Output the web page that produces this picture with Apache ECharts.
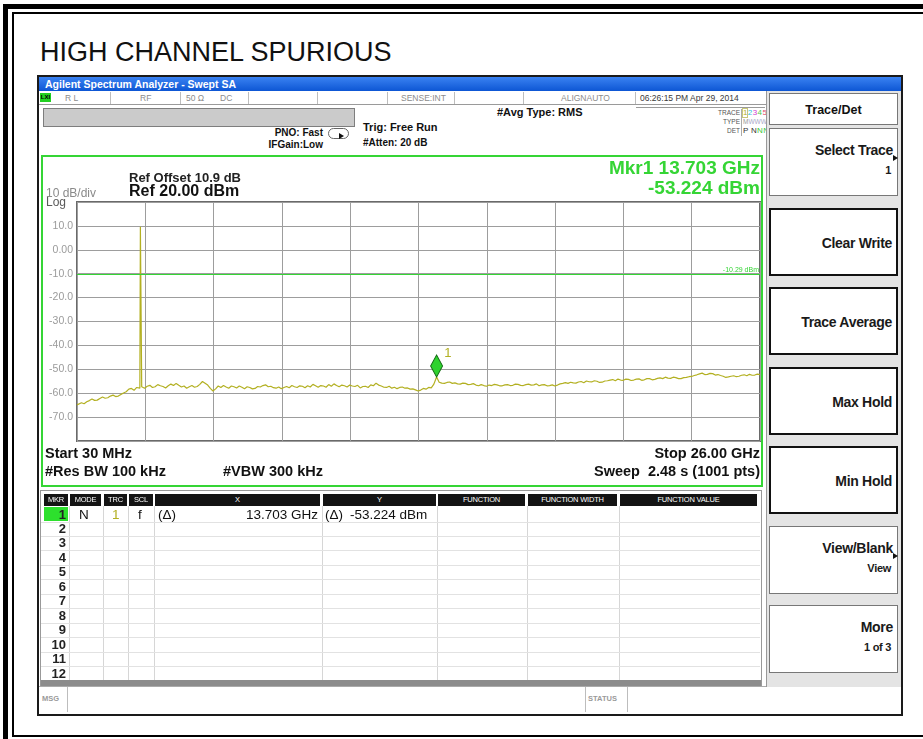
<!DOCTYPE html>
<html>
<head>
<meta charset="utf-8">
<title>HIGH CHANNEL SPURIOUS</title>
<script src="https://cdn.jsdelivr.net/npm/echarts@6/dist/echarts.min.js"></script>
<style>
body{margin:0;width:923px;height:739px;overflow:hidden;background:#fff;position:relative;font-family:Arial,"Liberation Sans",sans-serif;color:#111}
.a{position:absolute;box-sizing:border-box}
.t{position:absolute;white-space:nowrap;line-height:1}
.b{font-weight:bold}
.r{text-align:right}
.st{font-size:8.5px;color:#8c8c8c}
.vl{position:absolute;width:1px;background:#bdbdbd}
.hl{position:absolute;height:1px;background:#bdbdbd}
.key{position:absolute;left:769px;width:129px;background:#fff;border:1px solid #777;box-sizing:border-box}
.kt{position:absolute;right:4px;white-space:nowrap;line-height:1;font-weight:bold;font-size:14px;letter-spacing:-0.3px;color:#1a1a1a}
.hd{position:absolute;top:494px;height:12px;background:#141414;color:#fff;font-size:7.5px;line-height:12px;text-align:center;letter-spacing:-0.2px}
.tri{position:absolute;width:0;height:0;border-left:5px solid #111;border-top:3.5px solid transparent;border-bottom:3.5px solid transparent}
</style>
</head>
<body>
<!-- frame -->
<div class="a" style="left:3px;top:4px;width:960px;height:800px;border:5px solid #000"></div>
<div class="a" style="left:12px;top:12px;width:960px;height:725px;border:2.5px solid #000"></div>
<div class="t" style="left:40px;top:39px;font-size:27px">HIGH CHANNEL SPURIOUS</div>

<!-- analyzer window -->
<div class="a" style="left:37px;top:75px;width:866px;height:641px;border:2px solid #1a1a1a;background:#fff"></div>
<div class="a" style="left:39px;top:77px;width:862px;height:14px;background:linear-gradient(#3a82f2,#0d56d4)"></div>
<div class="t b" style="left:45px;top:79px;font-size:10.5px;color:#fff">Agilent Spectrum Analyzer - Swept SA</div>

<!-- status row -->
<div class="hl" style="left:39px;top:104px;width:727px;background:#9a9a9a"></div>
<div class="a" style="left:40px;top:93px;width:11px;height:9px;background:#22d022;font-size:6px;font-weight:bold;line-height:9px;text-align:center;color:#000">LXI</div>
<div class="t st" style="left:65px;top:94px">R L</div>
<div class="t st" style="left:140px;top:94px">RF</div>
<div class="t st" style="left:186px;top:94px">50 Ω</div>
<div class="t st" style="left:220px;top:94px">DC</div>
<div class="t st" style="left:401px;top:94px">SENSE:INT</div>
<div class="t st" style="left:561px;top:94px">ALIGNAUTO</div>
<div class="t" style="left:640px;top:94px;font-size:8.5px;color:#3a3a3a">06:26:15 PM Apr 29, 2014</div>
<div class="vl" style="left:110px;top:92px;height:12px"></div>
<div class="vl" style="left:180px;top:92px;height:12px"></div>
<div class="vl" style="left:248px;top:92px;height:12px"></div>
<div class="vl" style="left:317px;top:92px;height:12px"></div>
<div class="vl" style="left:387px;top:92px;height:12px"></div>
<div class="vl" style="left:454px;top:92px;height:12px"></div>
<div class="vl" style="left:523px;top:92px;height:12px"></div>
<div class="vl" style="left:635px;top:92px;height:12px"></div>
<div class="hl" style="left:636px;top:107px;width:129px;background:#9a9a9a"></div>

<!-- settings -->
<div class="a" style="left:43px;top:108px;width:312px;height:19px;background:#cbcbcb;border:1px solid #7e7e7e"></div>
<div class="t b r" style="right:600px;top:128px;font-size:10px">PNO: Fast</div>
<div class="t b r" style="right:600px;top:140px;font-size:10px">IFGain:Low</div>
<div class="a" style="left:328px;top:128px;width:21px;height:11px;border:1.5px solid #666;border-radius:6px"></div>
<div class="tri" style="left:339px;top:133px"></div>
<div class="t b" style="left:363px;top:122px;font-size:11px">Trig: Free Run</div>
<div class="t b" style="left:363px;top:138px;font-size:10px">#Atten: 20 dB</div>
<div class="t b" style="left:497px;top:107px;font-size:11px">#Avg Type: RMS</div>
<div class="vl" style="left:741px;top:109px;height:27px;background:#aaa"></div>
<div class="t r" style="right:183px;top:110px;font-size:6.5px;color:#555">TRACE</div>
<div class="t r" style="right:183px;top:119px;font-size:6.5px;color:#555">TYPE</div>
<div class="t r" style="right:183px;top:128px;font-size:6.5px;color:#555">DET</div>
<div class="a" style="left:742px;top:108px;width:6px;height:10px;border:1px solid #c8c878"></div>
<div class="t" style="left:743px;top:109px;font-size:8px;letter-spacing:0.4px"><span style="color:#b3b022">1</span><span style="color:#2ec4e0">2</span><span style="color:#d23ad2">3</span><span style="color:#4bc84b">4</span><span style="color:#e0506e">5</span><span style="color:#6a6ae8">6</span></div>
<div class="t" style="left:743px;top:119px;font-size:6.5px;color:#a9a9c9"><span style="color:#999">M</span>WWWWW</div>
<div class="t" style="left:743px;top:127px;font-size:8px;letter-spacing:0.3px"><span style="color:#333">P N</span><span style="color:#38c838">NNNN</span></div>

<!-- plot block -->
<div id="sa_chart" class="a" style="left:42px;top:157px;width:720px;height:330px"></div>
<div class="a" style="left:41px;top:155px;width:722px;height:332px;border:2px solid #35d535"></div>
<div class="t b" style="left:129px;top:171px;font-size:13px;color:#222">Ref Offset 10.9 dB</div>
<div class="t b" style="left:129px;top:183px;font-size:16px">Ref 20.00 dBm</div>
<div class="t" style="left:46px;top:187px;font-size:12px;color:#8a8a8a">10 dB/div</div>
<div class="t" style="left:46px;top:196px;font-size:12px;color:#5a5a5a">Log</div>
<div class="t b r" style="right:163px;top:158px;font-size:19px;color:#35d535">Mkr1 13.703 GHz</div>
<div class="t b r" style="right:163px;top:178px;font-size:19px;color:#35d535">-53.224 dBm</div>
<div class="t b" style="left:45px;top:446px;font-size:14.5px">Start 30 MHz</div>
<div class="t b" style="left:45px;top:464px;font-size:14.5px">#Res BW 100 kHz</div>
<div class="t b" style="left:223px;top:464px;font-size:14.5px">#VBW 300 kHz</div>
<div class="t b r" style="right:163px;top:446px;font-size:14.5px">Stop 26.00 GHz</div>
<div class="t b r" style="right:163px;top:464px;font-size:14.5px">Sweep&nbsp; 2.48 s (1001 pts)</div>

<!-- marker table -->
<div id="mkr_table"></div>

<!-- message row -->
<div class="hl" style="left:39px;top:686px;width:862px;background:#aaa"></div>
<div class="t b" style="left:42px;top:695px;font-size:7.5px;color:#9a9a9a">MSG</div>
<div class="vl" style="left:67px;top:687px;height:25px"></div>
<div class="vl" style="left:585px;top:687px;height:25px"></div>
<div class="t b" style="left:588px;top:695px;font-size:7.5px;color:#9a9a9a">STATUS</div>
<div class="vl" style="left:627px;top:687px;height:25px"></div>

<!-- softkeys -->
<div class="a" style="left:766px;top:91px;width:135px;height:596px;background:#e4e4e4;border-left:1px solid #999"></div>
<div id="soft_keys"></div>

<script>
// sweep trace (GHz / dBm)
const freqGHz = [
  0.03, 0.1, 0.2, 0.3, 0.4, 0.5, 0.6, 0.7, 0.8, 0.9,
  1.0, 1.1, 1.2, 1.3, 1.4, 1.5, 1.6, 1.7, 1.8, 1.9,
  2.0, 2.1, 2.2, 2.3, 2.36, 2.42, 2.44, 2.47, 2.49, 2.55,
  2.6, 2.7, 2.8, 2.9, 3.0, 3.1, 3.2, 3.3, 3.4, 3.5,
  3.6, 3.7, 3.8, 3.9, 4.0, 4.1, 4.2, 4.3, 4.4, 4.5,
  4.6, 4.7, 4.8, 4.9, 5.0, 5.1, 5.2, 5.3, 5.4, 5.5,
  5.6, 5.7, 5.8, 5.9, 6.0, 6.1, 6.2, 6.3, 6.4, 6.5,
  6.6, 6.7, 6.8, 6.9, 7.0, 7.1, 7.2, 7.3, 7.4, 7.5,
  7.6, 7.7, 7.8, 7.9, 8.0, 8.1, 8.2, 8.3, 8.4, 8.5,
  8.6, 8.7, 8.8, 8.9, 9.0, 9.1, 9.2, 9.3, 9.4, 9.5,
  9.6, 9.7, 9.8, 9.9, 10.0, 10.1, 10.2, 10.3, 10.4, 10.5,
  10.6, 10.7, 10.8, 10.9, 11.0, 11.1, 11.2, 11.3, 11.4, 11.5,
  11.6, 11.7, 11.8, 11.9, 12.0, 12.1, 12.2, 12.3, 12.4, 12.5,
  12.6, 12.7, 12.8, 12.9, 13.0, 13.1, 13.2, 13.3, 13.4, 13.5,
  13.6, 13.703, 13.8, 13.9, 14.0, 14.1, 14.2, 14.3, 14.4, 14.5,
  14.6, 14.7, 14.8, 14.9, 15.0, 15.1, 15.2, 15.3, 15.4, 15.5,
  15.6, 15.7, 15.8, 15.9, 16.0, 16.1, 16.2, 16.3, 16.4, 16.5,
  16.6, 16.7, 16.8, 16.9, 17.0, 17.1, 17.2, 17.3, 17.4, 17.5,
  17.6, 17.7, 17.8, 17.9, 18.0, 18.1, 18.2, 18.3, 18.4, 18.5,
  18.6, 18.7, 18.8, 18.9, 19.0, 19.1, 19.2, 19.3, 19.4, 19.5,
  19.6, 19.7, 19.8, 19.9, 20.0, 20.1, 20.2, 20.3, 20.4, 20.5,
  20.6, 20.7, 20.8, 20.9, 21.0, 21.1, 21.2, 21.3, 21.4, 21.5,
  21.6, 21.7, 21.8, 21.9, 22.0, 22.1, 22.2, 22.3, 22.4, 22.5,
  22.6, 22.7, 22.8, 22.9, 23.0, 23.1, 23.2, 23.3, 23.4, 23.5,
  23.6, 23.7, 23.8, 23.9, 24.0, 24.1, 24.2, 24.3, 24.4, 24.5,
  24.6, 24.7, 24.8, 24.9, 25.0, 25.1, 25.2, 25.3, 25.4, 25.5,
  25.6, 25.7, 25.8, 25.9, 26.0
]
const levelDbm = [
  -64.9, -64.3, -64.0, -64.4, -63.6, -63.1, -62.4, -63.0, -62.9, -62.2,
  -61.6, -62.1, -61.9, -61.2, -60.8, -61.4, -61.2, -60.5, -59.9, -59.4,
  -58.3, -58.0, -58.8, -57.6, -57.4, -57.9, 9.6, 9.8, -57.3, -57.6,
  -57.9, -57.1, -56.7, -57.6, -57.3, -56.4, -56.9, -57.2, -57.8, -56.9,
  -56.2, -56.8, -55.9, -56.7, -57.4, -57.0, -57.9, -57.3, -56.8, -57.5,
  -57.2, -56.3, -55.1, -55.8, -56.6, -58.0, -59.1, -58.2, -57.0, -57.6,
  -56.8, -57.4, -57.9, -57.0, -57.3, -57.8, -57.0, -57.5, -58.1, -57.3,
  -57.6, -58.2, -58.0, -57.2, -57.4, -56.8, -56.5, -57.3, -57.1, -57.7,
  -57.9, -57.4, -58.1, -57.6, -57.2, -57.7, -56.8, -57.3, -57.6, -56.9,
  -57.1, -57.7, -56.9, -57.4, -56.3, -56.9, -57.5, -56.8, -57.0, -57.5,
  -56.4, -57.1, -56.1, -56.8, -57.3, -56.6, -56.9, -57.4, -56.6, -57.0,
  -57.2, -56.7, -57.8, -57.2, -57.1, -57.6, -56.5, -56.9, -55.8, -56.6,
  -57.0, -57.5, -57.6, -57.1, -57.9, -57.5, -58.1, -57.6, -57.4, -57.9,
  -57.8, -58.3, -58.2, -58.6, -59.1, -58.7, -58.0, -58.3, -57.6, -57.8,
  -56.2, -53.224, -55.4, -55.8, -55.9, -55.5, -55.3, -55.9, -55.7, -56.1,
  -56.2, -55.8, -55.9, -56.4, -56.3, -56.0, -56.6, -56.9, -56.4, -56.8,
  -57.1, -56.6, -56.8, -56.3, -56.5, -56.9, -56.9, -56.5, -56.4, -56.8,
  -56.7, -56.2, -56.3, -56.7, -56.8, -56.4, -56.2, -56.6, -56.5, -56.1,
  -56.9, -56.5, -56.4, -56.9, -56.8, -56.5, -57.0, -56.6, -56.1, -55.9,
  -55.6, -55.9, -55.4, -55.7, -55.8, -55.3, -55.1, -55.6, -54.9, -55.2,
  -55.3, -54.8, -55.0, -55.5, -55.4, -54.9, -54.8, -54.5, -54.3, -54.8,
  -54.1, -54.5, -54.6, -54.1, -54.2, -54.7, -54.5, -54.1, -54.0, -54.6,
  -54.4, -53.9, -53.9, -54.4, -54.2, -53.8, -53.6, -53.9, -53.3, -53.7,
  -53.8, -53.3, -53.5, -53.9, -53.9, -53.5, -53.4, -53.1, -53.0, -52.6,
  -52.3, -51.9, -51.6, -52.2, -52.1, -51.7, -51.8, -52.4, -52.2, -52.6,
  -52.9, -53.4, -53.2, -52.9, -52.7, -53.1, -52.9, -52.5, -52.3, -52.7,
  -52.1, -52.5, -52.4, -52.0, -52.2
]
const startGHz = 0.03
const stopGHz = 26.0
const refLevel = 20
const bottomLevel = -80
const dbPerDiv = 10
const displayLine = -10.29
const marker1 = [13.703, -53.224]

const tableHeads = ['MKR', 'MODE', 'TRC', 'SCL', 'X', 'Y', 'FUNCTION', 'FUNCTION WIDTH', 'FUNCTION VALUE']
const markerNums = ['1', '2', '3', '4', '5', '6', '7', '8', '9', '10', '11', '12']
const row1Cells = ['N', '1', 'f', '(Δ)', '13.703 GHz', '(Δ)', '-53.224 dBm']
const softKeys = [
  {name: 'Select Trace', sub: '1', arrow: true},
  {name: 'Clear Write'},
  {name: 'Trace Average'},
  {name: 'Max Hold'},
  {name: 'Min Hold'},
  {name: 'View/Blank', sub: 'View', arrow: true},
  {name: 'More', sub: '1 of 3'}
]

function el(parent, cls, style, text) {
  const d = document.createElement('div')
  d.className = cls
  d.style.cssText = style
  if (text !== undefined) d.textContent = text
  parent.appendChild(d)
  return d
}

function buildTable() {
  const box = document.getElementById('mkr_table')
  el(box, 'a', 'left:40px;top:490px;width:722px;height:197px;border:1px solid #999;background:#fff')
  const colX = [[44, 68], [70, 101], [104, 127], [129, 153], [155, 320], [323, 436], [438, 525], [528, 617], [620, 757]]
  tableHeads.forEach((h, i) => {
    el(box, 'hd', `left:${colX[i][0]}px;width:${colX[i][1] - colX[i][0]}px`, h)
    if (i > 0) el(box, 'vl', `left:${colX[i][0] - 1}px;top:506px;height:174px;background:#d6d6d6`)
  })
  const rowH = 14.45
  for (let n = 1; n < 12; n++) {
    el(box, 'hl', `left:41px;top:${(507 + rowH * n).toFixed(1)}px;width:719px;background:#e2e2e2`)
  }
  el(box, 'a', 'left:44px;top:507px;width:24px;height:14px;background:#2de02d')
  markerNums.forEach((m, i) => {
    const c = 514 + rowH * i
    el(box, 't b r', `right:${923 - 66}px;top:${(c - 6.5).toFixed(1)}px;font-size:13px;color:#222`, m)
  })
  const cx = [['l', 79], ['l', 112], ['l', 138], ['l', 158], ['r', 318], ['l', 325], ['l', 350]]
  row1Cells.forEach((txt, i) => {
    const pos = cx[i][0] === 'l' ? `left:${cx[i][1]}px` : `right:${923 - cx[i][1]}px`
    const col = i === 1 ? '#b3b022' : '#111'
    el(box, 't', `${pos};top:507.5px;font-size:13.5px;color:${col}`, txt)
  })
  el(box, 'a', 'left:41px;top:680px;width:720px;height:6px;background:#8c8c8c')
}

function buildKeys() {
  const box = document.getElementById('soft_keys')
  const head = el(box, 'key', 'top:93px;height:32px')
  el(head, 't b', 'left:0;right:0;text-align:center;top:10px;font-size:12.5px', 'Trace/Det')
  softKeys.forEach((k, i) => {
    const top = 128 + Math.round(i * 79.5)
    const grouped = i >= 1 && i <= 4
    const key = el(box, 'key', `top:${top}px;height:68px;${grouped ? 'border:2px solid #111' : ''}`)
    if (k.sub) {
      el(key, 'kt', 'top:14px', k.name)
      el(key, 'kt', 'top:36px;font-size:11px;right:6px', k.sub)
    } else {
      el(key, 'kt', 'top:26px', k.name)
    }
    if (k.arrow) el(key, 'tri', 'left:123px;top:26px')
  })
}

function initChart() {
  const chartInstance = echarts.init(document.getElementById('sa_chart'))
  const traceData = freqGHz.map((f, i) => [f, levelDbm[i]])
  const option = {
    animation: false,
    grid: {left: 35, top: 45, width: 683, height: 239, show: true, borderColor: '#6a6a6a', borderWidth: 2},
    xAxis: [
      {
        type: 'value', min: startGHz, max: stopGHz,
        axisLine: {show: false}, axisTick: {show: false}, axisLabel: {show: false}, splitLine: {show: false}
      },
      {
        // 10 horizontal divisions
        type: 'value', min: 0, max: 10, interval: 1,
        axisLine: {show: false}, axisTick: {show: false}, axisLabel: {show: false},
        splitLine: {show: true, lineStyle: {color: '#9d9d9d', width: 1}}
      }
    ],
    yAxis: {
      type: 'value', min: bottomLevel, max: refLevel, interval: dbPerDiv,
      axisLine: {show: false}, axisTick: {show: false},
      axisLabel: {
        color: '#9b9b9b', fontSize: 10.5, margin: 4, fontFamily: 'Arial',
        formatter: v => {
          if (v === refLevel || v === bottomLevel) return ''
          if (v === 0) return '0.00'
          return v.toFixed(1)
        }
      },
      splitLine: {lineStyle: {color: '#9d9d9d', width: 1}}
    },
    series: [
      {
        type: 'line',
        xAxisIndex: 0,
        data: traceData,
        symbol: 'none',
        lineStyle: {color: '#b3b022', width: 1.2},
        markLine: {
          silent: true,
          symbol: 'none',
          lineStyle: {color: '#35d535', type: 'solid', width: 1.2},
          label: {position: 'insideEndTop', formatter: '-10.29 dBm', color: '#35d535', fontSize: 7, distance: 1},
          data: [{yAxis: displayLine}]
        },
        markPoint: {
          silent: true,
          symbol: 'diamond',
          symbolSize: [12, 22],
          symbolOffset: [0, '-50%'],
          itemStyle: {color: '#2ed22e', borderColor: '#146a14', borderWidth: 1},
          label: {show: true, formatter: '1', position: [14, -7], color: '#b3b022', fontSize: 13},
          data: [{coord: marker1}]
        }
      }
    ]
  }
  chartInstance.setOption(option)
}

buildTable()
buildKeys()
initChart()
</script>
</body>
</html>
